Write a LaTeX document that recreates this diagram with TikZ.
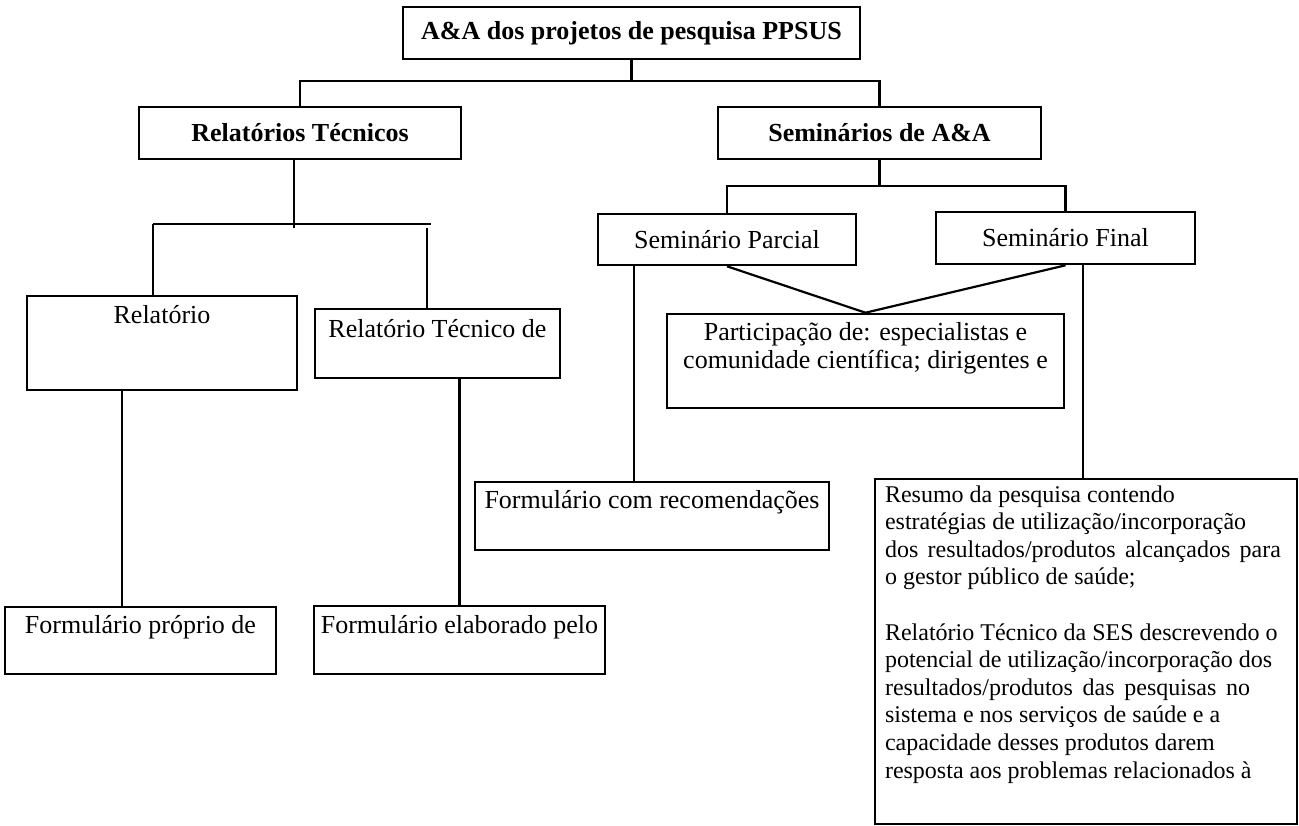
\documentclass[tikz,border=0pt]{standalone}
\usepackage{fontspec}
\setmainfont{Liberation Serif}
\usepackage{tikz}

% text set at the top of a framed box: width, height, first baseline, text
\newcommand{\boxtxt}[4]{\parbox[c][#2][t]{#1}{\centering\rule{0pt}{#3}#4}}

\begin{document}
\begin{tikzpicture}[x=0.5pt, y=-0.5pt]
        \tikzset{block/.style = {shape=rectangle, draw, line width=1.3pt, inner sep=0pt, font=\fontsize{13}{14}\selectfont}}
        \tikzset{link/.style = {line width=1.1pt}}
        \useasboundingbox (0,0) rectangle (1299,825);
        % boxes
        \node[block, minimum width=228.5pt, minimum height=26pt] (top) at (631.5,33) {\textbf{A\&A dos projetos de pesquisa PPSUS}};
        \node[block, minimum width=161pt, minimum height=26pt] (relTec) at (300,133) {\textbf{Relatórios Técnicos}};
        \node[block, minimum width=161.5pt, minimum height=26pt] (semAA) at (879.5,133) {\textbf{Seminários de A\&A}};
        \node[block] (relatorio) at (162,343) {\boxtxt{135pt}{47pt}{13.5pt}{Relatório}};
        \node[block] (relTecDe) at (437.5,343.5) {\boxtxt{122.5pt}{34.5pt}{14pt}{Relatório Técnico de}};
        \node[block] (formProprio) at (140.5,640.5) {\boxtxt{135.5pt}{33.5pt}{13pt}{Formulário próprio de}};
        \node[block] (formElab) at (459.5,640) {\boxtxt{145.5pt}{34pt}{13.5pt}{Formulário elaborado pelo}};
        \node[block, minimum width=129pt, minimum height=25.5pt] (semParc) at (727,239.5) {Seminário Parcial};
        \node[block, minimum width=129.5pt, minimum height=26pt] (semFinal) at (1065.5,238) {Seminário Final};
        \node[block] (particip) at (865.5,361) {\boxtxt{198.5pt}{47pt}{13pt}{Participação de: especialistas e\\ comunidade científica; dirigentes e}};
        \node[block] (formCom) at (652,516) {\boxtxt{177pt}{34pt}{13pt}{Formulário com recomendações}};
        \node[block, line width=1pt, font=\fontsize{12}{13.8}\selectfont] (resumo) at (1086,651.5) {\parbox[c][172.5pt][t]{211pt}{\raggedright\leftskip=5pt\rule{0pt}{11.5pt}Resumo da pesquisa contendo\\
            estratégias de utilização/incorporação\\
            \makebox[198pt][s]{dos resultados/produtos alcançados para}\\
            o gestor público de saúde;\\[13.8pt]
            Relatório Técnico da SES descrevendo o\\
            potencial de utilização/incorporação dos\\
            \makebox[182.5pt][s]{resultados/produtos das pesquisas no}\\
            sistema e nos serviços de saúde e a\\
            capacidade desses produtos darem\\
            resposta aos problemas relacionados à}};
        % joints
        \coordinate (rt1) at ([xshift=-3pt]relTec.south);
        \coordinate (rtL) at (153,224);
        \coordinate (rtR) at (431,224);
        \coordinate (rtR2) at (427,228);
        \coordinate (r1) at ([xshift=-20pt]relatorio.south);
        \coordinate (sp1) at ([xshift=-46.5pt]semParc.south);
        \coordinate (sf1) at ([xshift=8.75pt]semFinal.south);
        % links
        \draw[link] (top.south) -- ++(0,21) coordinate (j1);
        \draw[link] (relTec.north) |- (j1) -| (semAA.north);
        \draw[link] (rt1) -- ++(0,68);
        \draw[link] (rtL) -- (rtR);
        \draw[link] (rtL) -- (rtL |- relatorio.north);
        \draw[link] (rtR2) -- (rtR2 |- relTecDe.north);
        \draw[link] (r1) -- (r1 |- formProprio.north);
        \draw[link] (formElab.north) -- (formElab.north |- relTecDe.south);
        \draw[link] (semAA.south) -- ++(0,26) coordinate (j2);
        \draw[link] (semParc.north) |- (j2) -| (semFinal.north);
        \draw[link] (semParc.south) -- (particip.north) -- (semFinal.south);
        \draw[link] (sp1) -- (sp1 |- formCom.north);
        \draw[link] (sf1) -- (sf1 |- resumo.north);
\end{tikzpicture}
\end{document}
